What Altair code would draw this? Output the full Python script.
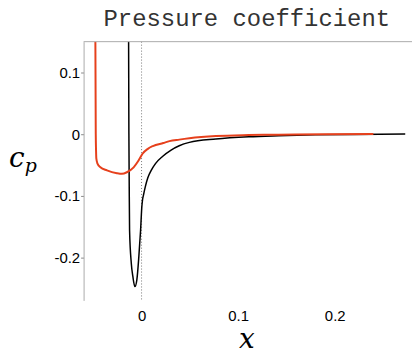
import altair as alt
import pandas as pd

# Black curve (x, cp)
black_x = [-0.0136, -0.0134, -0.0131, -0.0128, -0.0124, -0.0106, -0.0090, -0.0069,
           -0.0049, -0.0028, -0.0010, 0.0003, 0.0010, 0.0020, 0.0038, 0.0065, 0.0100,
           0.0144, 0.0220, 0.0306, 0.0390, 0.0495, 0.0770, 0.1110, 0.1420, 0.1800,
           0.2200, 0.2730]
black_cp = [0.30, 0.15, 0.0, -0.075, -0.156, -0.210, -0.231, -0.2476,
            -0.237, -0.199, -0.156, -0.118, -0.107, -0.099, -0.086, -0.071, -0.059,
            -0.048, -0.036, -0.026, -0.019, -0.0135, -0.008, -0.0044, -0.0027, -0.0012,
            -0.0005, 0.0]

# Red curve (x, cp)
red_x = [-0.0480, -0.0478, -0.0474, -0.0471, -0.0468, -0.0456, -0.0426, -0.0358,
         -0.0255, -0.0203, -0.0152, -0.0082, -0.0031, 0.0010, 0.0065, 0.0117,
         0.0225, 0.0289, 0.0390, 0.0495, 0.0770, 0.1110, 0.1420, 0.1900, 0.2400]
red_cp = [0.30, 0.15, 0.0, -0.027, -0.040, -0.048, -0.054, -0.059,
          -0.0636, -0.0646, -0.062, -0.054, -0.043, -0.032, -0.024, -0.0195,
          -0.0145, -0.0115, -0.009, -0.0068, -0.0032, -0.0016, -0.001, -0.0003, 0.0]

x_ticks = [0, 0.1, 0.2]
y_ticks = [-0.2, -0.1, 0, 0.1]
x_domain = [-0.06, 0.28]
y_domain = [-0.27, 0.15]

title_text = "Pressure coefficient"

W, H = 330, 260
SERIF = "DejaVu Serif"

black_df = pd.DataFrame({"x": black_x, "cp": black_cp})
red_df = pd.DataFrame({"x": red_x, "cp": red_cp})

xs = alt.Scale(domain=x_domain, nice=False, zero=False)
ys = alt.Scale(domain=y_domain, nice=False, zero=False)

xaxis = alt.Axis(values=x_ticks, title=None, domain=False, ticks=False, grid=False,
                 labelFont="Liberation Sans", labelFontSize=15, labelColor="#000",
                 labelPadding=8, labelExpr="toString(datum.value)")
yaxis = alt.Axis(values=y_ticks, title=None, domain=True, domainColor="#aaaaaa",
                 ticks=True, tickSize=3, tickColor="#888888", grid=False,
                 labelFont="Liberation Sans", labelFontSize=15, labelColor="#000",
                 labelPadding=1, labelExpr="toString(datum.value)")

black = alt.Chart(black_df).mark_line(color="black", strokeWidth=1.5, clip=True,
                                      interpolate="monotone").encode(
    x=alt.X("x:Q", scale=xs, axis=xaxis),
    y=alt.Y("cp:Q", scale=ys, axis=yaxis),
)
red = alt.Chart(red_df).mark_line(color="#e6401c", strokeWidth=2, clip=True,
                                  interpolate="monotone").encode(
    x=alt.X("x:Q", scale=xs),
    y=alt.Y("cp:Q", scale=ys),
)

zero_df = pd.DataFrame({"x0": [0]})
zero_line = alt.Chart(zero_df).mark_rule(color="#555555", strokeWidth=0.8,
                                         strokeDash=[1, 2]).encode(
    x=alt.X("x0:Q", scale=xs)
)

top_border = alt.Chart(zero_df).mark_rule(color="#aaaaaa", strokeWidth=1).encode(
    x=alt.value(0), x2=alt.value(W), y=alt.value(0)
)

lab_df = pd.DataFrame({"t": [""]})
title_mark = alt.Chart(lab_df).mark_text(text=title_text, font="Liberation Mono",
                                         fontSize=24, baseline="alphabetic", align="center",
                                         color="#333333").encode(
    x=alt.value(W / 2 - 1), y=alt.value(-16))
c_text = alt.Chart(lab_df).mark_text(text="c", font=SERIF, fontStyle="italic",
                                     fontSize=28, baseline="alphabetic", align="center",
                                     color="black").encode(x=alt.value(-67), y=alt.value(126))
p_text = alt.Chart(lab_df).mark_text(text="p", font=SERIF, fontStyle="italic",
                                     fontSize=19, baseline="alphabetic", align="center",
                                     color="black").encode(x=alt.value(-53), y=alt.value(131))
x_text = alt.Chart(lab_df).mark_text(text="x", font=SERIF, fontStyle="italic",
                                     fontSize=28, baseline="alphabetic", align="center",
                                     color="black").encode(x=alt.value(W / 2 - 1), y=alt.value(308))

chart = alt.layer(zero_line, black, red, top_border, title_mark, c_text, p_text, x_text).properties(
    width=W, height=H,
    padding={"left": 84, "top": 41, "right": 0, "bottom": 55},
).configure_view(stroke=None).properties(autosize="none")

chart.save("out.html", embed_options={"renderer": "svg", "actions": False})
